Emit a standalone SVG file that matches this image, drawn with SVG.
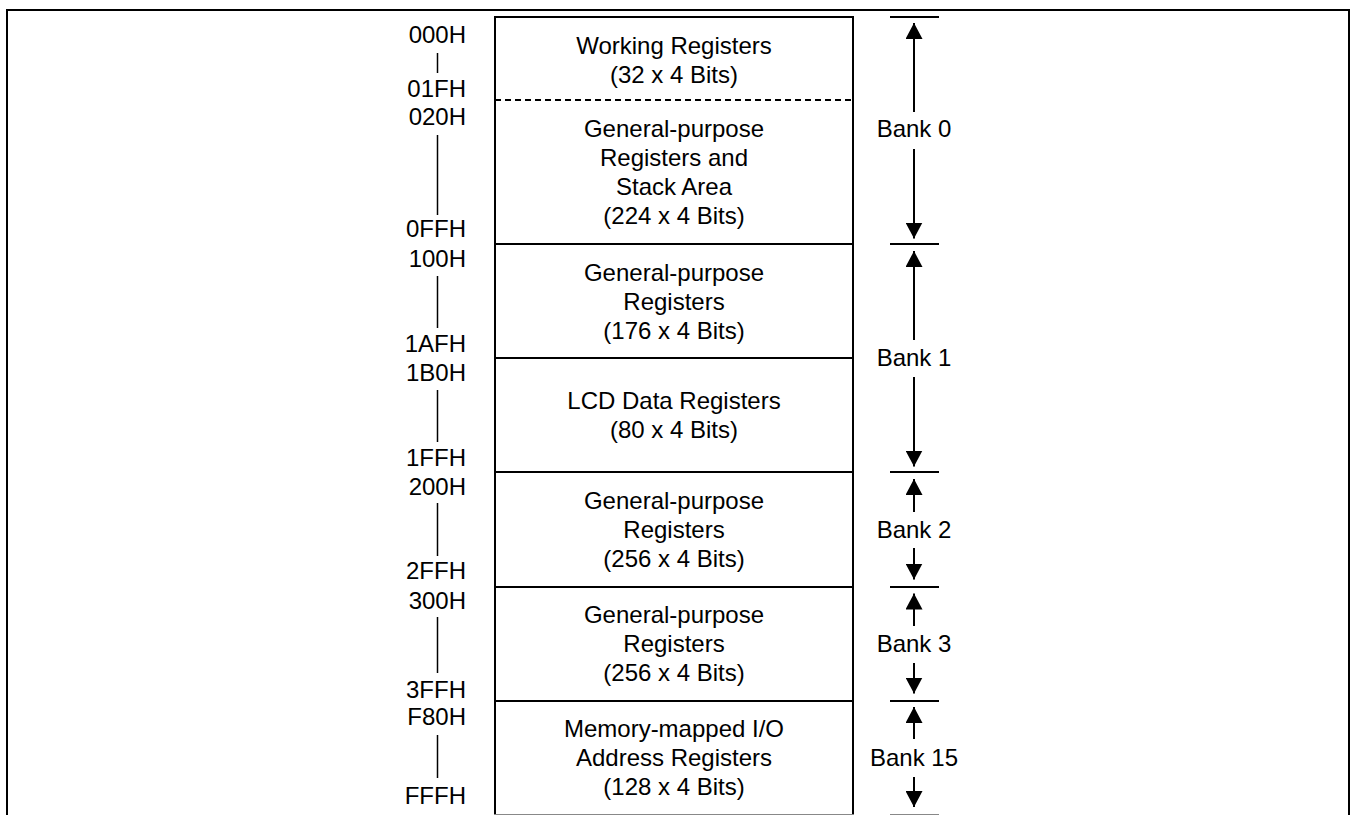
<svg xmlns="http://www.w3.org/2000/svg" width="1352" height="815" viewBox="0 0 1352 815">
  <defs>
    <style>
      text { font-family: "Liberation Sans", Arial, sans-serif; font-size: 24px; fill: #000; }
      .mid { text-anchor: middle; }
      .addr { text-anchor: end; }
      .frame { fill: none; stroke: #000; stroke-width: 2; }
      .bar { stroke: #000; stroke-width: 1.5; }
      .tick { stroke: #000; stroke-width: 2; }
      .arrow { stroke: #000; stroke-width: 2; fill: none; marker-end: url(#head); }
      .cell { fill: #fff; stroke: none; }
    </style>
    <marker id="head" viewBox="0 0 16 17" refX="16" refY="8.5" markerWidth="16" markerHeight="17" markerUnits="userSpaceOnUse" orient="auto">
      <path d="M0,0 L16,8.5 L0,17 Z" fill="#000"/>
    </marker>
  </defs>

  <rect width="1352" height="815" fill="#fff"/>

  <!-- page frame, open at the bottom -->
  <path class="frame" d="M7,817 V10 H1349 V817"/>

  <!-- memory map cells -->
  <g id="working-registers">
    <rect class="cell" x="495" y="17" width="358" height="83"/>
    <text class="mid" x="674" y="53.5">Working Registers</text>
    <text class="mid" x="674" y="82.5">(32 x 4 Bits)</text>
  </g>
  <g id="bank0-general">
    <rect class="cell" x="495" y="100" width="358" height="144"/>
    <text class="mid" x="674" y="136.5">General-purpose</text>
    <text class="mid" x="674" y="165.5">Registers and</text>
    <text class="mid" x="674" y="194.5">Stack Area</text>
    <text class="mid" x="674" y="223.5">(224 x 4 Bits)</text>
  </g>
  <g id="bank1-general">
    <rect class="cell" x="495" y="244" width="358" height="114"/>
    <text class="mid" x="674" y="281">General-purpose</text>
    <text class="mid" x="674" y="310">Registers</text>
    <text class="mid" x="674" y="339">(176 x 4 Bits)</text>
  </g>
  <g id="lcd-data">
    <rect class="cell" x="495" y="358" width="358" height="114"/>
    <text class="mid" x="674" y="408.5">LCD Data Registers</text>
    <text class="mid" x="674" y="437.5">(80 x 4 Bits)</text>
  </g>
  <g id="bank2-general">
    <rect class="cell" x="495" y="472" width="358" height="115"/>
    <text class="mid" x="674" y="508.5">General-purpose</text>
    <text class="mid" x="674" y="537.5">Registers</text>
    <text class="mid" x="674" y="566.5">(256 x 4 Bits)</text>
  </g>
  <g id="bank3-general">
    <rect class="cell" x="495" y="587" width="358" height="114"/>
    <text class="mid" x="674" y="622.5">General-purpose</text>
    <text class="mid" x="674" y="651.5">Registers</text>
    <text class="mid" x="674" y="680.5">(256 x 4 Bits)</text>
  </g>
  <g id="bank15-io">
    <rect class="cell" x="495" y="701" width="358" height="114"/>
    <text class="mid" x="674" y="737">Memory-mapped I/O</text>
    <text class="mid" x="674" y="766">Address Registers</text>
    <text class="mid" x="674" y="795">(128 x 4 Bits)</text>
  </g>

  <!-- cell outlines -->
  <g id="map-outline">
    <path class="frame" d="M495,817 V17 H853 V817"/>
    <line x1="495" y1="100" x2="853" y2="100" stroke="#000" stroke-width="2" stroke-dasharray="6,4"/>
    <line class="tick" x1="494" y1="244" x2="854" y2="244"/>
    <line class="tick" x1="494" y1="358" x2="854" y2="358"/>
    <line class="tick" x1="494" y1="472" x2="854" y2="472"/>
    <line class="tick" x1="494" y1="587" x2="854" y2="587"/>
    <line class="tick" x1="494" y1="701" x2="854" y2="701"/>
    <line x1="494" y1="814.5" x2="854" y2="814.5" stroke="#888" stroke-width="1"/>
  </g>

  <!-- address ranges -->
  <g id="addresses">
    <text class="addr" x="466" y="42.7">000H</text>
    <line class="bar" x1="437.5" y1="53" x2="437.5" y2="73"/>
    <text class="addr" x="466" y="97.3">01FH</text>
    <text class="addr" x="466" y="125">020H</text>
    <line class="bar" x1="437.5" y1="135" x2="437.5" y2="215"/>
    <text class="addr" x="466" y="237.3">0FFH</text>
    <text class="addr" x="466" y="267.3">100H</text>
    <line class="bar" x1="437.5" y1="276" x2="437.5" y2="328"/>
    <text class="addr" x="466" y="351.7">1AFH</text>
    <text class="addr" x="466" y="380.7">1B0H</text>
    <line class="bar" x1="437.5" y1="390" x2="437.5" y2="442"/>
    <text class="addr" x="466" y="466">1FFH</text>
    <text class="addr" x="466" y="495">200H</text>
    <line class="bar" x1="437.5" y1="503" x2="437.5" y2="556"/>
    <text class="addr" x="466" y="579.3">2FFH</text>
    <text class="addr" x="466" y="609.3">300H</text>
    <line class="bar" x1="437.5" y1="617" x2="437.5" y2="673"/>
    <text class="addr" x="466" y="697.7">3FFH</text>
    <text class="addr" x="466" y="725">F80H</text>
    <line class="bar" x1="437.5" y1="735" x2="437.5" y2="778"/>
    <text class="addr" x="466" y="804.3">FFFH</text>
  </g>

  <!-- bank limits -->
  <g id="bank-ticks">
    <line class="tick" x1="890" y1="17" x2="939" y2="17"/>
    <line class="tick" x1="890" y1="244" x2="939" y2="244"/>
    <line class="tick" x1="890" y1="472" x2="939" y2="472"/>
    <line class="tick" x1="890" y1="587" x2="939" y2="587"/>
    <line class="tick" x1="890" y1="701" x2="939" y2="701"/>
    <line x1="890" y1="814.5" x2="939" y2="814.5" stroke="#888" stroke-width="1"/>
  </g>

  <g id="bank0">
    <text class="mid" x="914" y="137.3">Bank 0</text>
  </g>
  <g id="bank1">
    <text class="mid" x="914" y="366">Bank 1</text>
  </g>
  <g id="bank2">
    <text class="mid" x="914" y="537.7">Bank 2</text>
  </g>
  <g id="bank3">
    <text class="mid" x="914" y="651.7">Bank 3</text>
  </g>
  <g id="bank15">
    <text class="mid" x="914" y="766">Bank 15</text>
  </g>

  <!-- span arrows -->
  <g id="connectors">
    <line class="arrow" x1="914" y1="112" x2="914" y2="23"/>
    <line class="arrow" x1="914" y1="149" x2="914" y2="238.5"/>
    <line class="arrow" x1="914" y1="340" x2="914" y2="251"/>
    <line class="arrow" x1="914" y1="377" x2="914" y2="466.5"/>
    <line class="arrow" x1="914" y1="512" x2="914" y2="479"/>
    <line class="arrow" x1="914" y1="548" x2="914" y2="579.5"/>
    <line class="arrow" x1="914" y1="626" x2="914" y2="593.5"/>
    <line class="arrow" x1="914" y1="663" x2="914" y2="693.5"/>
    <line class="arrow" x1="914" y1="739" x2="914" y2="707"/>
    <line class="arrow" x1="914" y1="777" x2="914" y2="807"/>
  </g>
</svg>
